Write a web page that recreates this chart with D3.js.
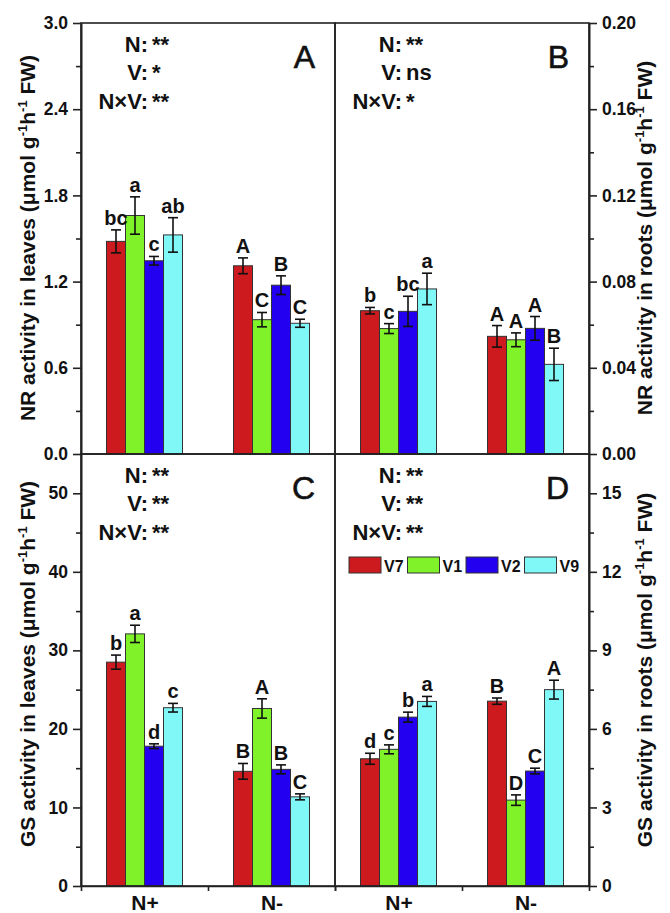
<!DOCTYPE html>
<html>
<head>
<meta charset="utf-8">
<script src="https://cdn.jsdelivr.net/npm/d3@7"></script>
<style>
body { margin: 0; background: #fff; }
text { font-family: "Liberation Sans", Arial, sans-serif; font-weight: bold; fill: #111; }
</style>
</head>
<body>
<div id="chart"></div>
<script>
groups = ["N+", "N-"]
varieties = ["V7", "V1", "V2", "V9"]
colors = ["#cc1a1e", "#80f22a", "#2400f0", "#80f8f8"]
statLabels = ["N:", "V:", "N\u00d7V:"]

// A: NR activity in leaves
nrLeaves = [[1.48, 1.66, 1.345, 1.525], [1.31, 0.935, 1.175, 0.91]]
nrLeavesErr = [[0.08, 0.13, 0.03, 0.12], [0.055, 0.05, 0.065, 0.028]]
nrLeavesLetters = [["bc", "a", "c", "ab"], ["A", "C", "B", "C"]]
nrLeavesStats = ["**", "*", "**"]
nrLeavesTicks = [0, 0.6, 1.2, 1.8, 2.4, 3.0]
nrLeavesMinor = [0.3, 0.9, 1.5, 2.1, 2.7]

// B: NR activity in roots
nrRoots = [[0.0665, 0.0582, 0.0662, 0.0766], [0.0546, 0.053, 0.0583, 0.0416]]
nrRootsErr = [[0.0015, 0.0023, 0.007, 0.0073], [0.005, 0.0032, 0.0055, 0.0075]]
nrRootsLetters = [["b", "c", "bc", "a"], ["A", "A", "A", "B"]]
nrRootsStats = ["**", "ns", "*"]
nrRootsTicks = [0, 0.04, 0.08, 0.12, 0.16, 0.20]
nrRootsMinor = [0.02, 0.06, 0.10, 0.14, 0.18]

// C: GS activity in leaves
gsLeaves = [[28.5, 32.1, 17.8, 22.7], [14.6, 22.6, 14.85, 11.35]]
gsLeavesErr = [[0.9, 1.1, 0.3, 0.55], [1.0, 1.23, 0.57, 0.38]]
gsLeavesLetters = [["b", "a", "d", "c"], ["B", "A", "B", "C"]]
gsLeavesStats = ["**", "**", "**"]
gsLeavesTicks = [0, 10, 20, 30, 40, 50]
gsLeavesMinor = [5, 15, 25, 35, 45]

// D: GS activity in roots
gsRoots = [[4.86, 5.22, 6.45, 7.05], [7.06, 3.28, 4.39, 7.5]]
gsRootsErr = [[0.21, 0.17, 0.19, 0.19], [0.12, 0.2, 0.11, 0.36]]
gsRootsLetters = [["d", "c", "b", "a"], ["B", "D", "C", "A"]]
gsRootsStats = ["**", "**", "**"]
gsRootsTicks = [0, 3, 6, 9, 12, 15]
gsRootsMinor = [1.5, 4.5, 7.5, 10.5, 13.5]

width = 670
height = 913
L = 81, M = 335, R = 589, T = 23, H = 454, B = 886

panels = [
  {letter: "A", x0: L, x1: M, y0: H, y1: T, max: 3.0, side: "left", vals: nrLeaves, err: nrLeavesErr,
   letters: nrLeavesLetters, stats: nrLeavesStats, ticks: nrLeavesTicks, minor: nrLeavesMinor, fmt: ".1f",
   title: "NR activity in leaves", tc: 238},
  {letter: "B", x0: M, x1: R, y0: H, y1: T, max: 0.2, side: "right", vals: nrRoots, err: nrRootsErr,
   letters: nrRootsLetters, stats: nrRootsStats, ticks: nrRootsTicks, minor: nrRootsMinor, fmt: ".2f",
   title: "NR activity in roots", tc: 238},
  {letter: "C", x0: L, x1: M, y0: B, y1: H, max: 55, side: "left", vals: gsLeaves, err: gsLeavesErr,
   letters: gsLeavesLetters, stats: gsLeavesStats, ticks: gsLeavesTicks, minor: gsLeavesMinor, fmt: "d",
   title: "GS activity in leaves", tc: 664, bottom: true},
  {letter: "D", x0: M, x1: R, y0: B, y1: H, max: 16.5, side: "right", vals: gsRoots, err: gsRootsErr,
   letters: gsRootsLetters, stats: gsRootsStats, ticks: gsRootsTicks, minor: gsRootsMinor, fmt: "d",
   title: "GS activity in roots", tc: 670, bottom: true, legend: true}
]

svg = d3.select("#chart").append("svg")
  .attr("width", width)
  .attr("height", height)

styleAxis = g => {
  g.selectAll("path, line").attr("stroke", "#222").attr("stroke-width", 1.6)
  g.selectAll("text").style("font-size", "17.5px").attr("fill", "#111")
}

drawTitle = (p) => {
  const left = p.side === "left"
  const cx = left ? 35 : 652
  const t = svg.append("text")
    .attr("transform", `translate(${cx},${p.tc}) rotate(-90)`)
    .attr("text-anchor", "middle")
    .style("font-size", "21px")
  t.append("tspan").text(p.title + " (\u03bcmol g")
  t.append("tspan").text("-1").attr("dy", -8).style("font-size", "13px")
  t.append("tspan").text("h").attr("dy", 8)
  t.append("tspan").text("-1").attr("dy", -8).style("font-size", "13px")
  t.append("tspan").text(" FW)").attr("dy", 8)
}

panels.forEach(p => {
  const xg = d3.scalePoint().domain(groups).range([p.x0, p.x1]).padding(0.5)
  const xv = d3.scaleBand().domain(varieties).range([-38, 38])
  const y = d3.scaleLinear().domain([0, p.max]).range([p.y0, p.y1])

  const rows = []
  groups.forEach((g, gi) => varieties.forEach((v, vi) => rows.push({
    g: g, v: v, vi: vi, val: p.vals[gi][vi], err: p.err[gi][vi], lab: p.letters[gi][vi]
  })))

  const bars = svg.append("g")
  bars.selectAll("rect")
    .data(rows)
    .enter().append("rect")
    .attr("x", d => xg(d.g) + xv(d.v))
    .attr("y", d => y(d.val))
    .attr("width", xv.bandwidth())
    .attr("height", d => y(0) - y(d.val))
    .attr("fill", d => colors[d.vi])
    .attr("stroke", "#333")
    .attr("stroke-width", 1)

  const eb = svg.append("g").attr("stroke", "#111").attr("stroke-width", 1.6)
  rows.forEach(d => {
    const cx = xg(d.g) + xv(d.v) + xv.bandwidth() / 2
    eb.append("line").attr("x1", cx).attr("x2", cx).attr("y1", y(d.val - d.err)).attr("y2", y(d.val + d.err))
    eb.append("line").attr("x1", cx - 5).attr("x2", cx + 5).attr("y1", y(d.val - d.err)).attr("y2", y(d.val - d.err))
    eb.append("line").attr("x1", cx - 5).attr("x2", cx + 5).attr("y1", y(d.val + d.err)).attr("y2", y(d.val + d.err))
  })

  svg.append("g").selectAll("text")
    .data(rows)
    .enter().append("text")
    .attr("x", d => xg(d.g) + xv(d.v) + xv.bandwidth() / 2)
    .attr("y", d => y(d.val + d.err) - 5)
    .attr("text-anchor", "middle")
    .style("font-size", "20px")
    .text(d => d.lab)

  // y axis with major + minor ticks
  const left = p.side === "left"
  const ax = left ? d3.axisLeft(y) : d3.axisRight(y)
  svg.append("g")
    .attr("transform", `translate(${left ? p.x0 : p.x1},0)`)
    .call(ax.tickValues(p.ticks).tickSize(8).tickSizeOuter(0).tickPadding(5).tickFormat(d3.format(p.fmt)))
    .call(styleAxis)
  const axm = left ? d3.axisLeft(y) : d3.axisRight(y)
  svg.append("g")
    .attr("transform", `translate(${left ? p.x0 : p.x1},0)`)
    .call(axm.tickValues(p.minor).tickSize(5).tickSizeOuter(0).tickFormat(""))
    .call(styleAxis)

  // frame
  svg.append("rect")
    .attr("x", p.x0).attr("y", p.y1)
    .attr("width", p.x1 - p.x0).attr("height", p.y0 - p.y1)
    .attr("fill", "none").attr("stroke", "#222").attr("stroke-width", 1.6)

  // bottom axis
  if (p.bottom) {
    const xt = d3.scaleLinear().domain([0, 2]).range([p.x0, p.x1])
    svg.append("g")
      .attr("transform", `translate(0,${p.y0})`)
      .call(d3.axisBottom(xt).tickValues([0, 1, 2]).tickSize(5).tickSizeOuter(0).tickFormat(""))
      .call(styleAxis)
    svg.append("g")
      .attr("transform", `translate(0,${p.y0})`)
      .call(d3.axisBottom(xg).tickSize(0).tickPadding(0))
      .call(g => g.select(".domain").remove())
      .call(g => g.selectAll("text").style("font-size", "21px").attr("fill", "#111").attr("dy", null).attr("y", 24))
  }

  // stats block
  p.stats.forEach((s, i) => {
    const by = p.y1 + 29 + i * 28.3
    svg.append("text").attr("x", p.x0 + 67).attr("y", by).attr("text-anchor", "end")
      .style("font-size", "22px").text(statLabels[i])
    svg.append("text").attr("x", p.x0 + 71).attr("y", by)
      .style("font-size", "22px").text(s)
  })

  svg.append("text")
    .attr("x", p.x0 + 234).attr("y", p.y1 + 45)
    .attr("text-anchor", "end")
    .style("font-size", "32px").style("font-weight", "normal")
    .style("stroke", "#111").style("stroke-width", 0.6)
    .text(p.letter)

  drawTitle(p)

  if (p.legend) {
    const lg = svg.append("g").attr("transform", `translate(${p.x0 + 14},${p.y1 + 103})`)
    const entry = lg.selectAll("g")
      .data(varieties)
      .enter().append("g")
      .attr("transform", (d, i) => `translate(${i * 58.5},0)`)
    entry.append("rect")
      .attr("width", 32).attr("height", 16)
      .attr("fill", (d, i) => colors[i])
      .attr("stroke", "#333").attr("stroke-width", 1)
    entry.append("text")
      .attr("x", 35).attr("y", 14.5)
      .style("font-size", "16px")
      .text(d => d)
  }
})
</script>
</body>
</html>
